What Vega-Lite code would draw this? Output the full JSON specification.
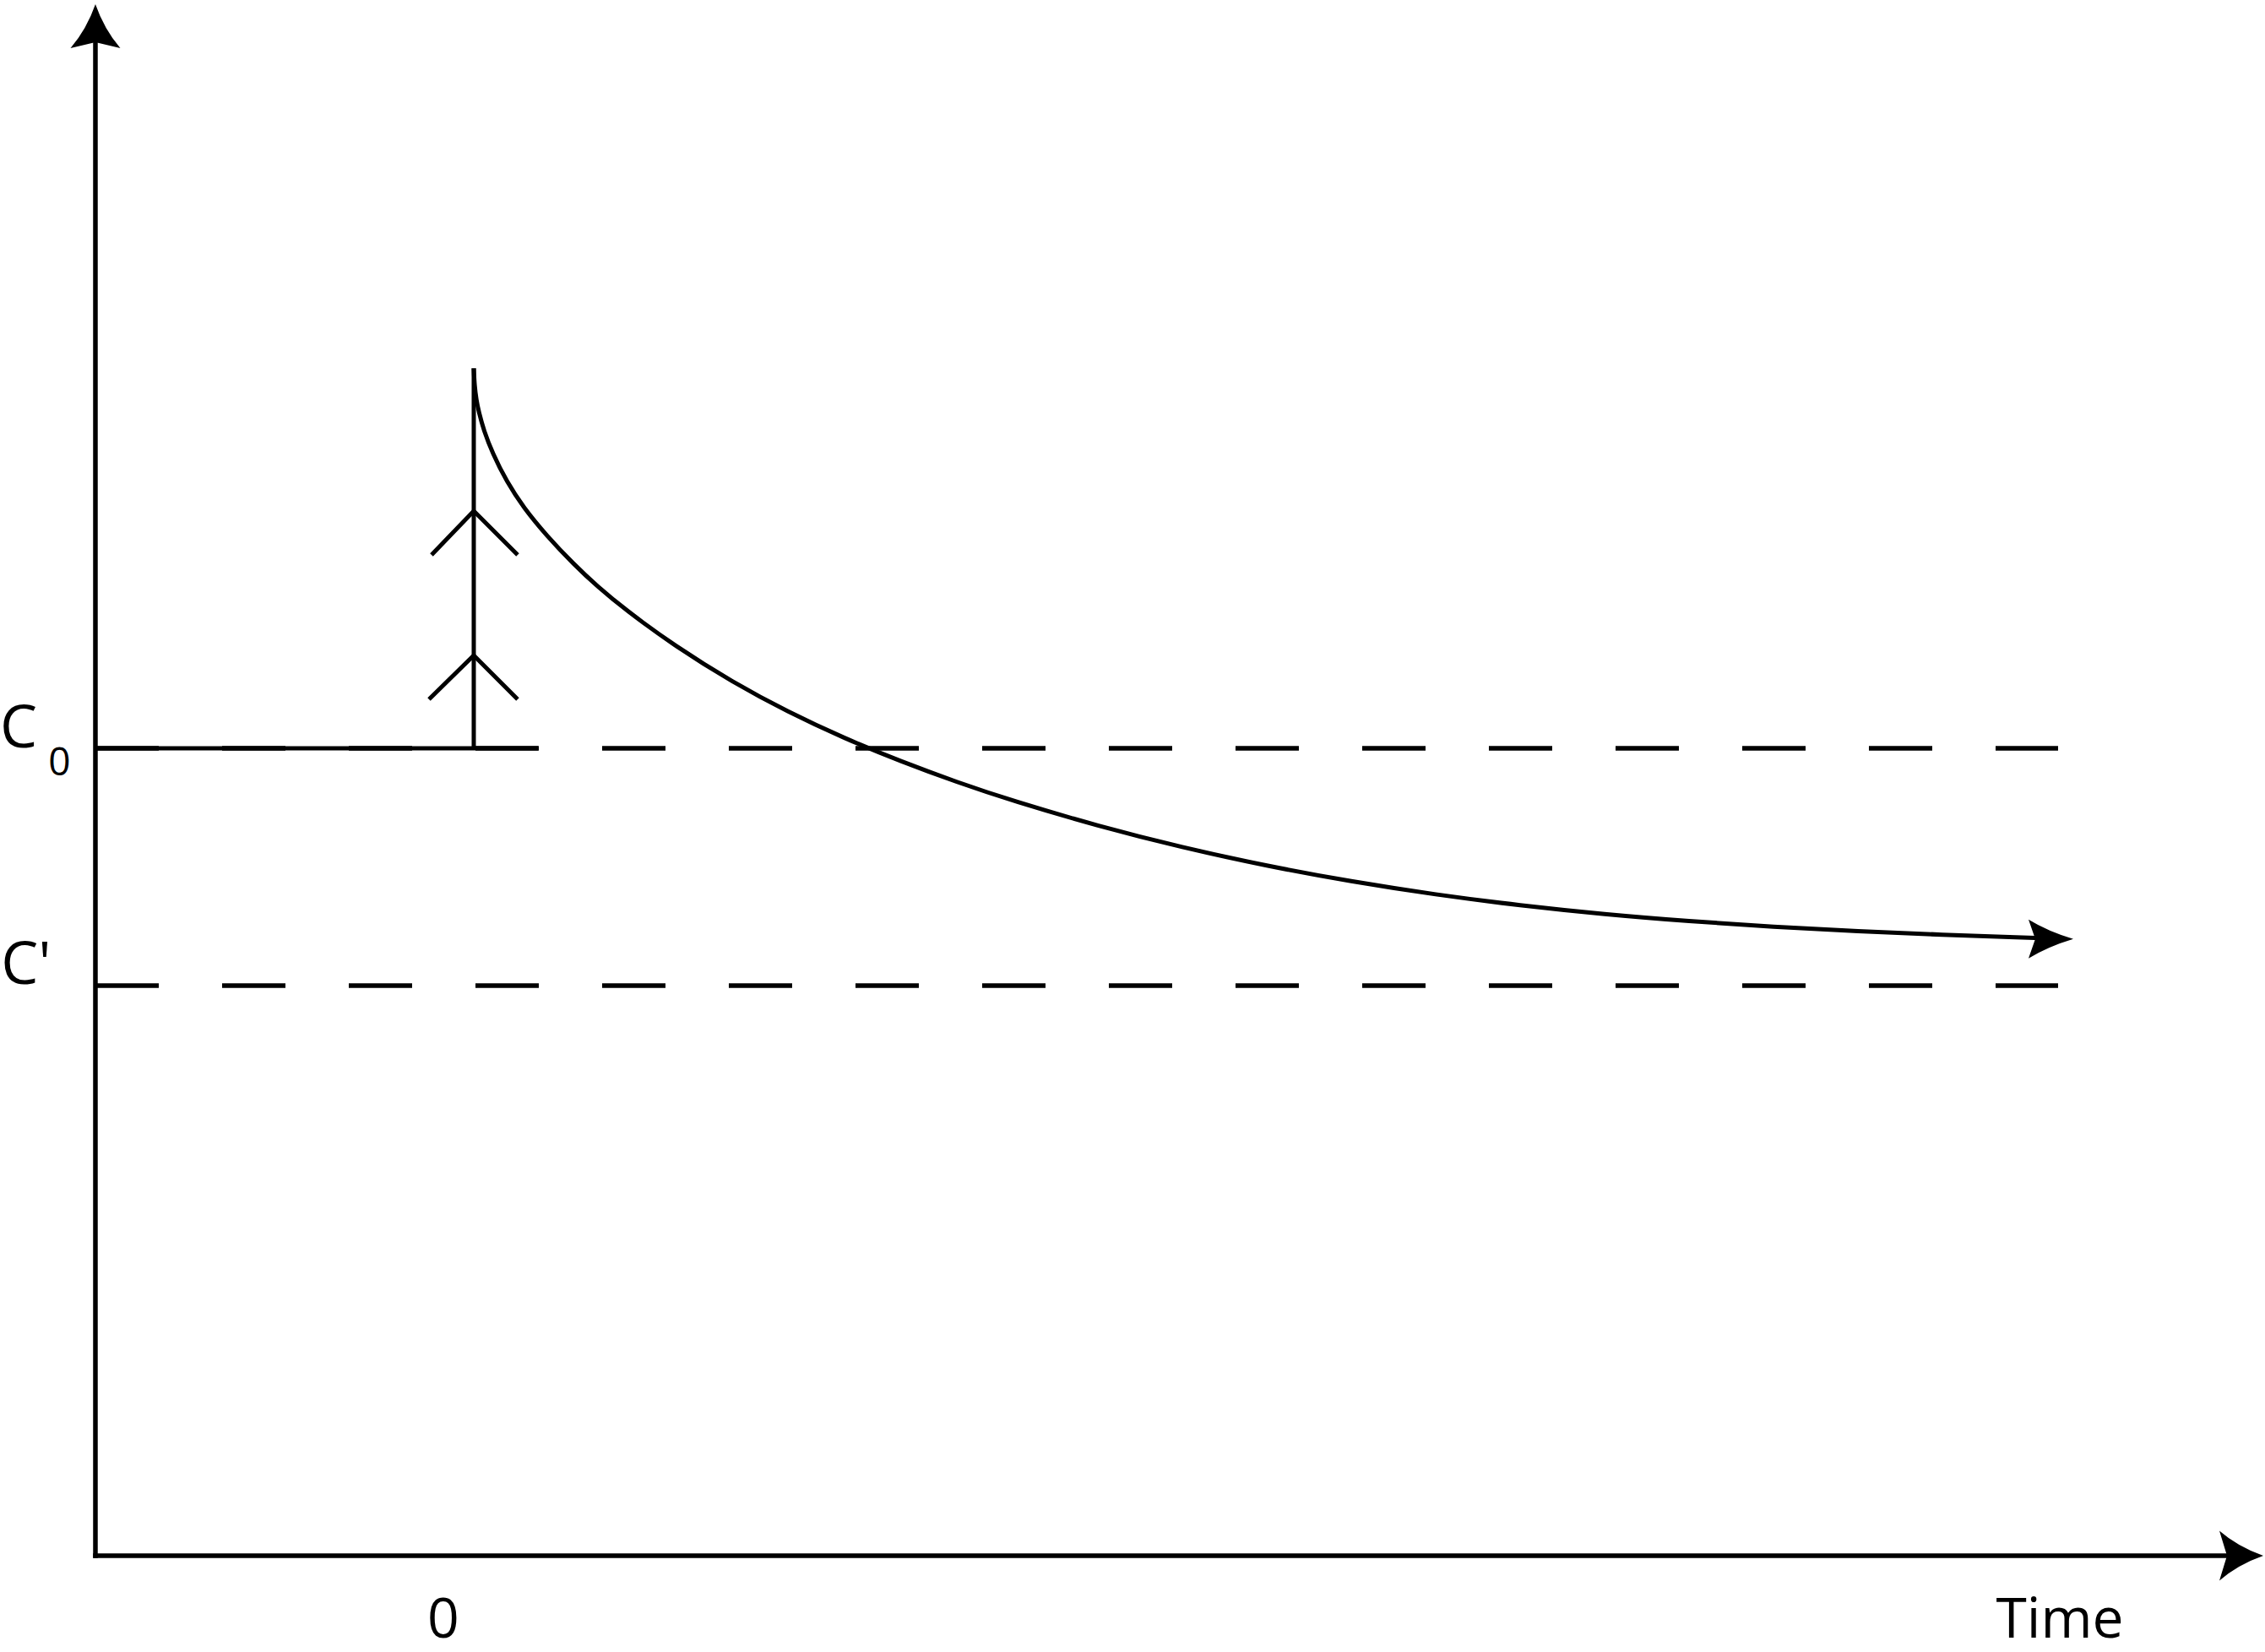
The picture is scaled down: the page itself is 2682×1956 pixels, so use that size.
{
  "$schema": "https://vega.github.io/schema/vega-lite/v6.json",
  "width": 2682,
  "height": 1956,
  "autosize": {"type": "none"},
  "padding": 0,
  "background": "white",
  "config": {"view": {"stroke": null}},
  "datasets": {
    "axes": [
      {"seg": "y", "i": 0, "t": -1, "c": 0},
      {"seg": "y", "i": 1, "t": -1, "c": 1.88},
      {"seg": "x", "i": 0, "t": -1, "c": 0},
      {"seg": "x", "i": 1, "t": 4.65, "c": 0}
    ],
    "solid": [
      {"seg": "c0", "i": 0, "t": -1, "c": 1},
      {"seg": "c0", "i": 1, "t": 0.1696, "c": 1},
      {"seg": "spike", "i": 0, "t": 0, "c": 1},
      {"seg": "spike", "i": 1, "t": 0, "c": 1.4706},
      {"seg": "chevU", "i": 0, "t": -0.1116, "c": 1.2395},
      {"seg": "chevU", "i": 1, "t": 0, "c": 1.2939},
      {"seg": "chevU", "i": 2, "t": 0.116, "c": 1.2395},
      {"seg": "chevL", "i": 0, "t": -0.1183, "c": 1.0607},
      {"seg": "chevL", "i": 1, "t": 0, "c": 1.1151},
      {"seg": "chevL", "i": 2, "t": 0.116, "c": 1.0607}
    ],
    "dashes": [
      {"seg": "C0", "i": 0, "t": -1, "c": 1},
      {"seg": "C0", "i": 1, "t": 4.1875, "c": 1},
      {"seg": "Cp", "i": 0, "t": -1, "c": 0.7061},
      {"seg": "Cp", "i": 1, "t": 4.1875, "c": 0.7061}
    ],
    "curve": [
      {"i": 0, "t": 0, "c": 1.4707},
      {"i": 1, "t": 0.0022, "c": 1.4487},
      {"i": 2, "t": 0.0067, "c": 1.432},
      {"i": 3, "t": 0.0134, "c": 1.4163},
      {"i": 4, "t": 0.0268, "c": 1.3933},
      {"i": 5, "t": 0.0491, "c": 1.3661},
      {"i": 6, "t": 0.0871, "c": 1.33},
      {"i": 7, "t": 0.1317, "c": 1.2981},
      {"i": 8, "t": 0.192, "c": 1.2636},
      {"i": 9, "t": 0.2656, "c": 1.2273},
      {"i": 10, "t": 0.3259, "c": 1.2008},
      {"i": 11, "t": 0.3996, "c": 1.1719},
      {"i": 12, "t": 0.5335, "c": 1.1261},
      {"i": 13, "t": 0.683, "c": 1.0822},
      {"i": 14, "t": 0.8304, "c": 1.045},
      {"i": 15, "t": 0.9799, "c": 1.0123},
      {"i": 16, "t": 1.1295, "c": 0.9836},
      {"i": 17, "t": 1.2768, "c": 0.9581},
      {"i": 18, "t": 1.4263, "c": 0.9346},
      {"i": 19, "t": 1.6496, "c": 0.9038},
      {"i": 20, "t": 1.8728, "c": 0.8771},
      {"i": 21, "t": 2.096, "c": 0.8543},
      {"i": 22, "t": 2.3192, "c": 0.8349},
      {"i": 23, "t": 2.5424, "c": 0.8187},
      {"i": 24, "t": 2.7656, "c": 0.8053},
      {"i": 25, "t": 2.9888, "c": 0.7944},
      {"i": 26, "t": 3.2121, "c": 0.7858},
      {"i": 27, "t": 3.4353, "c": 0.7788},
      {"i": 28, "t": 3.6585, "c": 0.7733},
      {"i": 29, "t": 3.8817, "c": 0.769},
      {"i": 30, "t": 4.1049, "c": 0.7655},
      {"i": 31, "t": 4.1496, "c": 0.7649}
    ],
    "axisArrows": [
      {"dir": "right", "t": 4.7299, "c": 0},
      {"dir": "up", "t": -1, "c": 1.9215}
    ],
    "curveArrow": [
      {"dir": "right", "t": 4.2277, "c": 0.7638}
    ],
    "labels": [
      {"label": "C", "t": -1.2031, "c": 1.001},
      {"label": "C'", "t": -1.183, "c": 0.7082}
    ],
    "xlabels": [
      {"label": "0", "t": -0.0804, "c": -0.1015},
      {"label": "Time", "t": 4.192, "c": -0.1015}
    ],
    "subscripts": [
      {"label": "0", "t": -1.0949, "c": 0.9665}
    ]
  },
  "encoding": {
    "x": {"field": "t", "type": "quantitative", "scale": {"domain": [-1.2522, 4.7344], "nice": false, "zero": false}, "axis": null},
    "y": {"field": "c", "type": "quantitative", "scale": {"domain": [-0.11925, 1.92678], "nice": false, "zero": false}, "axis": null}
  },
  "layer": [
    {
      "data": {"name": "dashes"},
      "mark": {"type": "line", "color": "black", "strokeWidth": 5.5, "strokeDash": [75, 75], "strokeCap": "butt"},
      "encoding": {"detail": {"field": "seg"}, "order": {"field": "i"}}
    },
    {
      "data": {"name": "solid"},
      "mark": {"type": "line", "color": "black", "strokeWidth": 5, "strokeCap": "butt", "strokeJoin": "miter"},
      "encoding": {"detail": {"field": "seg"}, "order": {"field": "i"}}
    },
    {
      "data": {"name": "curve"},
      "mark": {"type": "line", "color": "black", "strokeWidth": 5, "interpolate": "basis"},
      "encoding": {"order": {"field": "i"}}
    },
    {
      "data": {"name": "axes"},
      "mark": {"type": "line", "color": "black", "strokeWidth": 5.5, "strokeCap": "square"},
      "encoding": {"detail": {"field": "seg"}, "order": {"field": "i"}}
    },
    {
      "data": {"name": "axisArrows"},
      "mark": {"type": "point", "filled": true, "color": "black", "opacity": 1, "size": 3600, "strokeWidth": 0},
      "encoding": {
        "shape": {"field": "dir", "type": "nominal", "legend": null, "scale": {"domain": ["right", "up"], "range": ["M0,0 Q-1.0,-0.35 -1.733,-0.983 L-1.433,0 L-1.733,0.983 Q-1.0,0.35 0,0 Z", "M0,0 Q-0.35,1.0 -0.983,1.733 L0,1.5 L0.983,1.733 Q0.35,1.0 0,0 Z"]}}
      }
    },
    {
      "data": {"name": "curveArrow"},
      "mark": {"type": "point", "filled": true, "color": "black", "opacity": 1, "size": 3600, "strokeWidth": 0, "shape": "M0,0 Q-1.0,-0.3 -1.767,-0.767 L-1.5,0 L-1.767,0.767 Q-1.0,0.3 0,0 Z"},
      "encoding": {}
    },
    {
      "data": {"name": "labels"},
      "mark": {"type": "text", "font": "Open Sans", "fontSize": 70, "align": "center", "baseline": "alphabetic", "color": "black"},
      "encoding": {"text": {"field": "label", "type": "nominal"}}
    },
    {
      "data": {"name": "xlabels"},
      "mark": {"type": "text", "font": "Open Sans", "fontSize": 66, "align": "center", "baseline": "alphabetic", "color": "black"},
      "encoding": {"text": {"field": "label", "type": "nominal"}}
    },
    {
      "data": {"name": "subscripts"},
      "mark": {"type": "text", "font": "Open Sans", "fontSize": 46, "align": "center", "baseline": "alphabetic", "color": "black"},
      "encoding": {"text": {"field": "label", "type": "nominal"}}
    }
  ]
}
